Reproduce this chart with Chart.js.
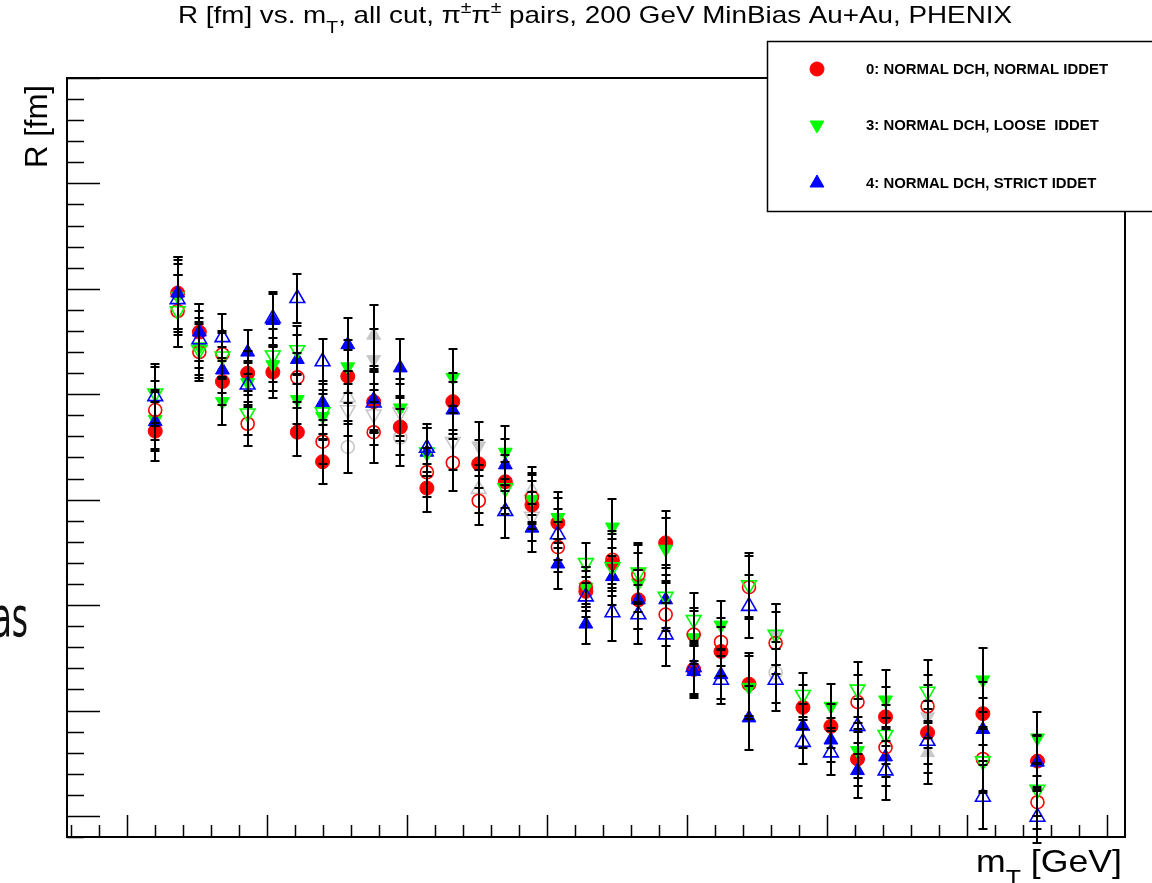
<!DOCTYPE html>
<html>
<head>
<meta charset="utf-8">
<title>R vs mT, PHENIX</title>
<script src="https://cdn.jsdelivr.net/npm/chart.js@4.4.1/dist/chart.umd.min.js"></script>
<style>
  html, body { margin: 0; padding: 0; background: #fff; }
  #wrap { width: 1152px; height: 883px; }
</style>
</head>
<body>
<div id="wrap"><canvas id="rChart" width="1152" height="883"></canvas></div>
<script>
// m_T bin centres [GeV]
const mT = [0.241, 0.273, 0.304, 0.337, 0.373, 0.409, 0.444, 0.480,
            0.516, 0.553, 0.591, 0.629, 0.666, 0.703, 0.741, 0.779,
            0.816, 0.856, 0.894, 0.931, 0.970, 1.010, 1.049, 1.089,
            1.127, 1.166, 1.206, 1.244, 1.284, 1.344, 1.423, 1.501];

// R [fm], null where the marker is covered / missing
const redFilled = [5.65, 6.96, 6.59, 6.12, 6.20, 6.21, 5.64, 5.36,
                   6.17, 5.93, 5.69, 5.11, 5.93, 5.34, 5.17, 4.95,
                   4.78, 4.13, 4.40, 4.05, 4.59, 3.39, 3.56, 3.25,
                   null, 3.03, 2.85, 2.54, 2.94, 2.79, 2.97, 2.52];
const greenFilled = [5.76, 6.93, 6.45, 5.93, 6.11, 6.28, 5.95, 5.79,
                     6.26, null, 5.87, null, 6.16, null, 5.45, 5.00,
                     4.83, 4.17, 4.74, 4.21, 4.53, 3.69, 3.81, 3.22,
                     null, null, 3.04, 2.62, 3.10, null, 3.29, 2.74];
const blueFilled = [5.74, 6.96, 6.59, 6.23, 6.40, 6.70, 6.33, 5.92,
                    6.47, 5.95, 6.25, 5.45, 5.85, null, 5.33, 4.73,
                    4.39, 3.82, 4.27, 4.05, 4.05, 3.37, 3.34, 2.93,
                    null, 2.85, 2.72, 2.43, 2.56, null, 2.82, 2.51];
const redOpen = [5.85, 6.79, 6.40, 6.38, 5.72, null, 6.16, 5.55,
                 null, 5.64, null, 5.26, 5.35, 4.99, null, 5.02,
                 4.55, 4.17, 4.43, 4.29, 3.91, 3.72, 3.65, 4.17,
                 3.64, null, null, 3.08, 2.65, 3.04, 2.54, 2.13];
const greenOpen = [6.01, 6.79, 6.42, 6.36, 5.82, 6.37, 6.42, 5.83,
                   null, null, null, 5.45, null, null, 5.11, null,
                   null, 4.40, 4.36, 4.31, 4.08, 3.86, null, 4.19,
                   3.72, 3.15, null, 3.20, 2.77, 3.18, 2.52, 2.25];
const blueOpen = [5.98, 6.90, 6.52, 6.54, 6.09, 6.72, 6.91, 6.31,
                  null, 5.92, null, 5.49, null, null, 4.89, null,
                  4.67, 4.08, 3.93, 3.91, 3.72, 3.41, 3.29, 3.99,
                  3.29, 2.70, 2.60, 2.85, 2.43, 2.71, 2.18, 1.99];

// light grey sets that show through in a few bins
const greyOpenCircle = [null, null, null, null, null, null, null, null,
                        5.50, null, 5.59, null, null, null, null, null,
                        null, null, null, null, null, null, null, null,
                        3.36, null, null, null, null, null, null, null];
const greyFilledDown = [null, null, null, null, null, null, null, null,
                        null, 6.33, null, null, null, 5.51, null, null,
                        null, null, null, null, null, null, null, null,
                        3.72, null, null, null, null, 2.94, null, null];
const greyFilledUp = [null, null, null, null, null, null, null, null,
                      null, 6.56, null, null, null, null, null, null,
                      null, null, null, null, null, null, null, null,
                      null, null, null, null, null, 2.60, null, null];
const greyOpenDown = [null, null, null, null, null, null, null, null,
                      5.85, 5.81, 5.83, null, 5.55, null, null, 4.84,
                      null, null, null, null, null, null, null, null,
                      null, null, null, null, null, null, null, null];
const greyOpenUp = [null, null, null, null, null, null, null, null,
                    5.97, null, null, null, null, 5.10, null, 5.08,
                    null, null, null, null, null, null, null, null,
                    null, null, null, null, null, null, null, null];

// error on R per bin [fm]
const errR = [0.28, 0.34, 0.27, 0.22, 0.21, 0.25, 0.23, 0.21,
              0.25, 0.29, 0.27, 0.23, 0.27, 0.23, 0.25, 0.23,
              0.24, 0.19, 0.27, 0.28, 0.30, 0.25, 0.23, 0.30,
              0.29, 0.21, 0.21, 0.26, 0.28, 0.30, 0.30, 0.25];

const legendLabels = ["0: NORMAL DCH, NORMAL IDDET",
                      "3: NORMAL DCH, LOOSE  IDDET",
                      "4: NORMAL DCH, STRICT IDDET"];

// axis ranges and tick steps (no tick labels on this plot)
const xMin = 0.115, xMax = 1.626, xMajor = 0.2, xMinor = 0.04;
const yMin = 1.8, yMax = 9.0, yMajor = 1.0, yMinor = 0.2;

const RED = "#ff0000", GREEN = "#00ff00", BLUE = "#0000ff", GREY = "#c8c8c8";
const FONT = "'Liberation Sans', Arial, sans-serif";

function pts(vals) {
  let out = [];
  vals.forEach((v, i) => {
    if (v !== null) out.push({ x: mT[i], y: v, e: errR[i] });
  });
  return out;
}

function filled(label, vals, color, style, rot) {
  return { label: label, data: pts(vals), showLine: false, pointStyle: style,
    pointRotation: rot || 0, pointRadius: style === "circle" ? 7 : 8,
    pointBackgroundColor: color, pointBorderColor: color, pointBorderWidth: 1 };
}

function hollow(label, vals, color, style, rot) {
  return { label: label, data: pts(vals), showLine: false, pointStyle: style,
    pointRotation: rot || 0, pointRadius: style === "circle" ? 6.5 : 8.5,
    pointBackgroundColor: "rgba(0,0,0,0)", pointBorderColor: color, pointBorderWidth: 1.6 };
}

// first dataset is drawn on top
let datasets = [
  hollow("4 open", blueOpen, BLUE, "triangle"),
  hollow("3 open", greenOpen, GREEN, "triangle", 180),
  hollow("0 open", redOpen, RED, "circle"),
  filled(legendLabels[2], blueFilled, BLUE, "triangle"),
  filled(legendLabels[1], greenFilled, GREEN, "triangle", 180),
  filled(legendLabels[0], redFilled, RED, "circle"),
  hollow("grey open up", greyOpenUp, GREY, "triangle"),
  hollow("grey open down", greyOpenDown, GREY, "triangle", 180),
  hollow("grey open circle", greyOpenCircle, GREY, "circle"),
  filled("grey up", greyFilledUp, GREY, "triangle"),
  filled("grey down", greyFilledDown, GREY, "triangle", 180)
];

function tickValues(min, max, minor, major) {
  let out = [];
  let k0 = Math.ceil(min / minor - 1e-6);
  for (let k = k0; k * minor <= max + 1e-6; k++) {
    let v = k * minor;
    let r = v / major;
    out.push({ v: v, major: Math.abs(r - Math.round(r)) < 1e-6 });
  }
  return out;
}

// text pieces: {t, s} with s = "sub" / "sup", squeezed to a given width
function drawRich(ctx, parts, left, y, width, size, weight) {
  let fontOf = p => (weight || "") + " " + (p.s ? size * 0.7 : size) + "px " + FONT;
  let total = 0;
  parts.forEach(p => {
    ctx.font = fontOf(p);
    p.w = ctx.measureText(p.t).width;
    total += p.w;
  });
  ctx.save();
  ctx.translate(left, y);
  ctx.scale(width / total, 1);
  ctx.textAlign = "left";
  ctx.textBaseline = "alphabetic";
  let x = 0;
  parts.forEach(p => {
    ctx.font = fontOf(p);
    let dy = p.s === "sub" ? size * 0.4 : p.s === "sup" ? -size * 0.42 : 0;
    ctx.fillText(p.t, x, dy);
    x += p.w;
  });
  ctx.restore();
}

function drawFrame(chart) {
  let ctx = chart.ctx, a = chart.chartArea;
  let xs = chart.scales.x, ys = chart.scales.y;
  ctx.save();
  ctx.strokeStyle = "#000";
  ctx.lineWidth = 2;
  ctx.strokeRect(a.left, a.top, a.right - a.left, a.bottom - a.top);

  ctx.lineWidth = 1.5;
  ctx.beginPath();
  tickValues(yMin, yMax, yMinor, yMajor).forEach(t => {
    let py = Math.round(ys.getPixelForValue(t.v)) + 0.5;
    ctx.moveTo(a.left, py);
    ctx.lineTo(a.left + (t.major ? 33 : 17), py);
  });
  tickValues(xMin, xMax, xMinor, xMajor).forEach(t => {
    let px = Math.round(xs.getPixelForValue(t.v)) + 0.5;
    ctx.moveTo(px, a.bottom);
    ctx.lineTo(px, a.bottom - (t.major ? 22 : 12));
  });
  ctx.stroke();
  ctx.restore();
}

function drawLegend(ctx) {
  ctx.save();
  ctx.fillStyle = "#fff";
  ctx.strokeStyle = "#000";
  ctx.lineWidth = 1.5;
  ctx.fillRect(767, 41, 400, 171);
  ctx.strokeRect(767.5, 41.5, 400, 170);

  let rows = [
    { y: 69, color: RED, style: "circle", rot: 0, r: 7 },
    { y: 125, color: GREEN, style: "triangle", rot: 180, r: 8 },
    { y: 183, color: BLUE, style: "triangle", rot: 0, r: 8 }
  ];
  ctx.font = "bold 14px " + FONT;
  let sx = 242 / ctx.measureText(legendLabels[0]).width;
  rows.forEach((row, i) => {
    ctx.fillStyle = row.color;
    ctx.strokeStyle = row.color;
    ctx.lineWidth = 1;
    Chart.helpers.drawPoint(ctx, { pointStyle: row.style, rotation: row.rot, radius: row.r, borderWidth: 1 }, 817, row.y);
    ctx.save();
    ctx.fillStyle = "#000";
    ctx.font = "bold 14px " + FONT;
    ctx.translate(866, row.y + 5);
    ctx.scale(sx, 1.08);
    ctx.textAlign = "left";
    ctx.fillText(legendLabels[i], 0, 0);
    ctx.restore();
  });
  ctx.restore();
}

function drawTitles(ctx) {
  ctx.save();
  ctx.fillStyle = "#000";
  drawRich(ctx, [
    { t: "R [fm] vs. m" }, { t: "T", s: "sub" }, { t: ", all cut, \u03c0" },
    { t: "\u00b1", s: "sup" }, { t: "\u03c0" }, { t: "\u00b1", s: "sup" },
    { t: " pairs, 200 GeV MinBias Au+Au, PHENIX" }
  ], 178, 23, 834, 24);

  drawRich(ctx, [{ t: "m" }, { t: "T", s: "sub" }, { t: " [GeV]" }], 976, 872, 146, 32);

  ctx.save();
  ctx.translate(47, 168);
  ctx.rotate(-Math.PI / 2);
  drawRich(ctx, [{ t: "R [fm]" }], 0, 0, 83, 32);
  ctx.restore();

  // clipped fragment of text at the left edge
  ctx.save();
  ctx.fillStyle = "#111";
  ctx.font = "52px 'DejaVu Sans', sans-serif";
  ctx.translate(28, 636);
  ctx.scale(0.6, 1.05);
  ctx.textAlign = "right";
  ctx.fillText("as", 0, 0);
  ctx.restore();
  ctx.restore();
}

const rootStyle = {
  id: "rootStyle",
  beforeDraw(chart) {
    let ctx = chart.ctx;
    ctx.save();
    ctx.fillStyle = "#fff";
    ctx.fillRect(0, 0, chart.width, chart.height);
    ctx.restore();
  },
  // black error bars with caps, drawn over the markers like ROOT does
  afterDatasetsDraw(chart) {
    let ctx = chart.ctx, xs = chart.scales.x, ys = chart.scales.y;
    ctx.save();
    ctx.strokeStyle = "#000";
    ctx.lineWidth = 2;
    chart.data.datasets.forEach(ds => {
      ds.data.forEach(p => {
        let px = Math.round(xs.getPixelForValue(p.x));
        let top = Math.round(ys.getPixelForValue(p.y + p.e));
        let bot = Math.round(ys.getPixelForValue(p.y - p.e));
        ctx.beginPath();
        ctx.moveTo(px, top);
        ctx.lineTo(px, bot);
        ctx.moveTo(px - 4.5, top);
        ctx.lineTo(px + 4.5, top);
        ctx.moveTo(px - 4.5, bot);
        ctx.lineTo(px + 4.5, bot);
        ctx.stroke();
      });
    });
    ctx.restore();
  },
  afterDraw(chart) {
    drawFrame(chart);
    drawLegend(chart.ctx);
    drawTitles(chart.ctx);
  }
};

let ctx = document.getElementById("rChart").getContext("2d");
window.rChart = new Chart(ctx, {
  type: "scatter",
  data: { datasets: datasets },
  options: {
    responsive: false,
    animation: false,
    devicePixelRatio: 1,
    layout: { padding: { left: 67, top: 78, right: 27, bottom: 46 } },
    plugins: {
      legend: { display: false },
      title: { display: false },
      tooltip: { enabled: false }
    },
    scales: {
      x: { type: "linear", min: xMin, max: xMax, display: false },
      y: { type: "linear", min: yMin, max: yMax, display: false }
    }
  },
  plugins: [rootStyle]
});
</script>
</body>
</html>
